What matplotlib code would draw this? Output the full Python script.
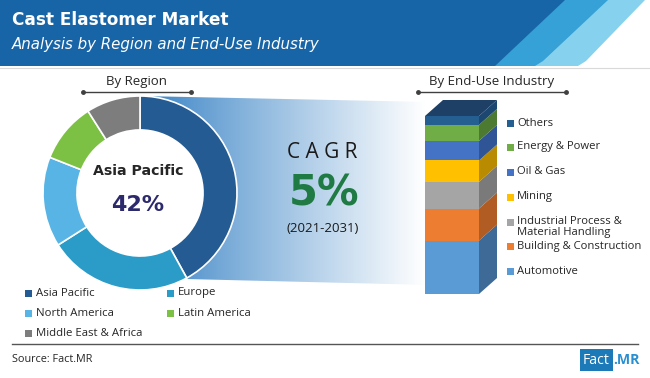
import matplotlib
matplotlib.use("Agg")
import matplotlib.pyplot as plt
import numpy as np
from matplotlib.patches import Polygon, Rectangle, Circle
from matplotlib.colors import to_rgb

# ---------------- data ----------------
regions = ["Asia Pacific", "Europe", "North America", "Latin America", "Middle East & Africa"]
region_share = [42, 24, 15, 10, 9]
region_colors = ["#245b92", "#2b9bc8", "#58b4e4", "#7cc144", "#7d7d7d"]

industries = ["Automotive", "Building & Construction", "Industrial Process &\nMaterial Handling",
              "Mining", "Oil & Gas", "Energy & Power", "Others"]
industry_share = [30, 18, 15, 12, 11, 9, 5]
industry_colors = ["#5b9bd5", "#ed7d31", "#a5a5a5", "#ffc000", "#4472c4", "#70ad47", "#255e91"]
industry_side = ["#3d6a96", "#b05c22", "#7a7a7a", "#b88b00", "#2f5597", "#4c7a30", "#1b4770"]

cagr_label = "C A G R"
cagr_value = "5%"
cagr_period = "(2021-2031)"

W, H = 650, 378
fig = plt.figure(figsize=(W / 100, H / 100), dpi=100)
ax = fig.add_axes([0, 0, 1, 1])
ax.set_xlim(0, W)
ax.set_ylim(H, 0)
ax.axis("off")

BODY = "Open Sans"

# ---------------- header ----------------
ax.add_patch(Polygon([(0, 0), (645, 0), (586, 61), (578, 66), (0, 66)], closed=True,
                     color="#86d2ee", lw=0, zorder=1))
ax.add_patch(Polygon([(0, 0), (608, 0), (543, 61), (535, 66), (0, 66)], closed=True,
                     color="#35a1d6", lw=0, zorder=2))
ax.add_patch(Polygon([(0, 0), (565, 0), (495, 66), (0, 66)], closed=True,
                     color="#1764a6", lw=0, zorder=3))
ax.plot([0, W], [68, 68], color="#d9d9d9", lw=0.8, zorder=3)
ax.text(12, 20, "Cast Elastomer Market", color="white", fontsize=12.2, fontweight="bold",
        family="DejaVu Sans", va="center", ha="left", zorder=5)
ax.text(12, 44, "Analysis by Region and End-Use Industry", color="white", fontsize=10.8,
        style="italic", family="DejaVu Sans", va="center", ha="left", zorder=5)

# ---------------- gradient band ----------------
grad_x = np.linspace(0, 1, 300)
c0 = np.array(to_rgb("#3a84c6"))
c1 = np.array([1.0, 1.0, 1.0])
t = np.clip(grad_x, 0, 1) ** 0.9
img = (c0[None, :] * (1 - t[:, None]) + c1[None, :] * t[:, None])
img = np.tile(img[None, :, :], (10, 1, 1))
band = Polygon([(140, 96), (430, 102), (430, 285), (186, 279), (140, 193)], closed=True,
               facecolor="none", edgecolor="none")
ax.add_patch(band)
im = ax.imshow(img, extent=(150, 425, 290, 95), aspect="auto", zorder=2, interpolation="bilinear")
im.set_clip_path(band)
ax.set_xlim(0, W)
ax.set_ylim(H, 0)

# ---------------- donut ----------------
cx, cy, R = 140, 193, 97
pax = fig.add_axes([(cx - R) / W, (H - cy - R) / H, 2 * R / W, 2 * R / H])
pax.add_patch(Circle((0, 0), 0.66, color="white", lw=0, zorder=0))
pax.pie(region_share, colors=region_colors, startangle=90, counterclock=False,
        wedgeprops=dict(width=0.35, edgecolor="white", linewidth=1.2))
pax.set_xlim(-1.0, 1.0)
pax.set_ylim(-1.0, 1.0)
pax.set_aspect("equal")
pax.axis("off")

pax.text(138, 171, regions[0], fontsize=10.2, fontweight="bold", color="#262626",
         family="DejaVu Sans", ha="center", va="center", zorder=6, transform=ax.transData,
         clip_on=False)
pax.text(138, 205, f"{region_share[0]}%", fontsize=16, fontweight="bold", color="#2c2a6c",
         family="DejaVu Sans", ha="center", va="center", zorder=6, transform=ax.transData,
         clip_on=False)

# section headers
ax.text(137, 81, "By Region", fontsize=9.5, color="#262626", family=BODY,
        ha="center", va="center")
ax.plot([83, 191], [92, 92], color="#404040", lw=1, marker="o", markersize=2.5)
ax.text(492, 81, "By End-Use Industry", fontsize=9.5, color="#262626", family=BODY,
        ha="center", va="center")
ax.plot([418, 566], [92, 92], color="#404040", lw=1, marker="o", markersize=2.5)

# region legend
leg_pos = [(25, 293), (167, 293), (25, 313), (167, 313), (25, 333)]
for (lx, ly), name, col in zip(leg_pos, regions, region_colors):
    ax.add_patch(Rectangle((lx, ly - 3.5), 7, 7, color=col, lw=0))
    ax.text(lx + 11, ly, name, fontsize=8.2, color="#262626", family=BODY,
            ha="left", va="center")

# ---------------- CAGR ----------------
ax.text(322, 153, cagr_label, fontsize=15, color="#1a1a1a", family=BODY,
        ha="center", va="center", zorder=6)
ax.text(324, 193, cagr_value, fontsize=30, fontweight="bold", color="#1f7a44",
        family="DejaVu Sans", ha="center", va="center", zorder=6)
ax.text(323, 229, cagr_period, fontsize=9.5, color="#1a1a1a", family=BODY,
        ha="center", va="center", zorder=6)

# ---------------- 3D stacked bar ----------------
px_per_unit = 178 / 100.0
depth_x, depth_y = 18, 16 / px_per_unit
bx = fig.add_axes([425 / W, (H - 294) / H, 75 / W, (294 - 100) / H])
bx.set_xlim(0, 75)
bx.set_ylim(0, 194 / px_per_unit)
bx.axis("off")
bottom = 0.0
for v, col, side in zip(industry_share, industry_colors, industry_side):
    bx.bar(0, v, bottom=bottom, width=54, align="edge", color=col, lw=0)
    bx.add_patch(Polygon([(54, bottom), (54, bottom + v), (54 + depth_x, bottom + v + depth_y),
                          (54 + depth_x, bottom + depth_y)], closed=True, color=side, lw=0))
    bottom += v
bx.add_patch(Polygon([(0, bottom), (54, bottom), (54 + depth_x, bottom + depth_y),
                      (depth_x, bottom + depth_y)], closed=True, color="#1e3f66", lw=0))

# industry legend
ind_leg_y = [271, 246, 227.5, 197, 172, 147, 123]
for name, col, ly in zip(industries, industry_colors, ind_leg_y):
    sq_y = ly if "\n" not in name else 222
    ax.add_patch(Rectangle((507, sq_y - 3.5), 7, 7, color=col, lw=0))
    ax.text(517, ly, name, fontsize=8.1, color="#262626", family=BODY,
            ha="left", va="center", linespacing=1.0)

# ---------------- footer ----------------
ax.plot([12, 638], [344, 344], color="#555555", lw=1)
ax.text(12, 360, "Source: Fact.MR", fontsize=7.8, color="#262626", family=BODY,
        ha="left", va="center")
ax.add_patch(Rectangle((580, 349), 33, 22, color="#1d7ab9", lw=0))
ax.text(596.5, 360, "Fact", fontsize=10.2, color="white", family=BODY,
        ha="center", va="center")
ax.text(613.5, 360, ".MR", fontsize=10.2, fontweight="bold", color="#2a8fd0", family=BODY,
        ha="left", va="center")

fig.savefig("out.png", dpi=100)
